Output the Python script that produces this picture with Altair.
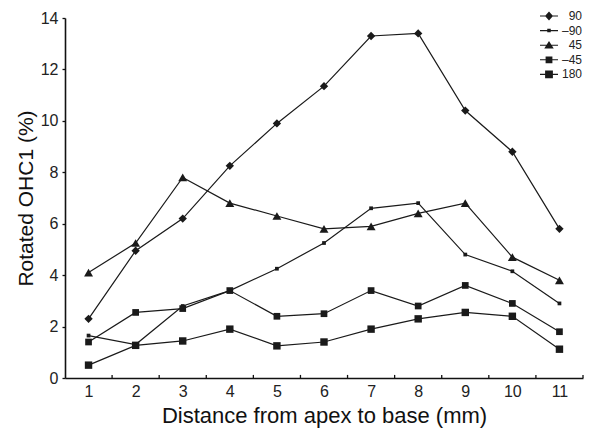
import altair as alt
import pandas as pd

# ---- data ----
distance = [1, 2, 3, 4, 5, 6, 7, 8, 9, 10, 11]
series_names = ["90", "\u201390", "45", "\u201345", "180"]
s_90 = [2.3, 4.95, 6.2, 8.25, 9.9, 11.35, 13.3, 13.4, 10.4, 8.8, 5.8]
s_m90 = [1.65, 1.3, 2.8, 3.4, 4.25, 5.25, 6.6, 6.8, 4.8, 4.15, 2.9]
s_45 = [4.1, 5.25, 7.8, 6.8, 6.3, 5.8, 5.9, 6.4, 6.8, 4.7, 3.8]
s_m45 = [1.4, 2.55, 2.7, 3.4, 2.4, 2.5, 3.4, 2.8, 3.6, 2.9, 1.8]
s_180 = [0.5, 1.27, 1.44, 1.9, 1.25, 1.4, 1.9, 2.3, 2.55, 2.4, 1.12]
y_ticks = [0, 2, 4, 6, 8, 10, 12, 14]
x_minor_ticks = [1.5, 2.5, 3.5, 4.5, 5.5, 6.5, 7.5, 8.5, 9.5, 10.5, 11.5]

values = [s_90, s_m90, s_45, s_m45, s_180]
rows = []
for name, vals in zip(series_names, values):
    for xv, yv in zip(distance, vals):
        rows.append({"x": xv, "y": yv, "series": name})
df = pd.DataFrame(rows)
ticks_df = pd.DataFrame({"t": x_minor_ticks})

FONT = "Liberation Sans"
INK = "#1a1a1a"

xscale = alt.Scale(domain=[0.5, 11.5], nice=False, zero=False)
yscale = alt.Scale(domain=[0, 14], nice=False)

x_axis = alt.Axis(values=distance, orient="bottom", ticks=False, grid=False,
                  labelPadding=5, titlePadding=6,
                  title="Distance from apex to base (mm)")
y_axis = alt.Axis(values=y_ticks, title="Rotated OHC1 (%)", grid=False,
                  tickSize=3, labelPadding=4, titlePadding=4)

marker_shapes = ["diamond", "square", "triangle-up", "square", "square"]
marker_sizes = [70, 14, 80, 45, 55]
legend_shapes = [
    "M-1.8,-0.11H1.8V0.11H-1.8ZM0,-0.9L0.8,0L0,0.9L-0.8,0Z",
    "M-1.8,-0.11H1.8V0.11H-1.8ZM-0.35,-0.35H0.35V0.35H-0.35Z",
    "M-1.8,-0.11H1.8V0.11H-1.8ZM0,-0.85L0.95,0.65H-0.95Z",
    "M-1.8,-0.11H1.8V0.11H-1.8ZM-0.68,-0.68H0.68V0.68H-0.68Z",
    "M-1.8,-0.11H1.8V0.11H-1.8ZM-0.78,-0.78H0.78V0.78H-0.78Z",
]

base = alt.Chart(df)

lines = base.mark_line(color=INK, strokeWidth=1.2).encode(
    x=alt.X("x:Q", scale=xscale, axis=x_axis),
    y=alt.Y("y:Q", scale=yscale, axis=y_axis),
    detail="series:N",
    order="x:Q",
)

points = base.mark_point(filled=True, color=INK, opacity=1).encode(
    x=alt.X("x:Q", scale=xscale, axis=x_axis),
    y=alt.Y("y:Q", scale=yscale, axis=y_axis),
    shape=alt.Shape("series:N", scale=alt.Scale(domain=series_names, range=marker_shapes), legend=None),
    size=alt.Size("series:N", scale=alt.Scale(type="ordinal", domain=series_names, range=marker_sizes), legend=None),
)

legend_layer = base.transform_filter("false").mark_point(
    filled=True, color=INK
).encode(
    x=alt.X("x:Q", scale=xscale, axis=x_axis),
    y=alt.Y("y:Q", scale=yscale, axis=y_axis),
    shape=alt.Shape(
        "series:N",
        scale=alt.Scale(domain=series_names, range=legend_shapes),
        legend=alt.Legend(
            title=None, orient="none", legendX=478, legendY=-8,
            padding=0, symbolSize=100, symbolFillColor=INK,
            symbolStrokeColor=INK, symbolStrokeWidth=0, symbolOpacity=1,
            labelOffset=27, labelAlign="right", labelFontSize=12,
            labelFont=FONT, labelColor="#222", rowPadding=2.6,
        ),
    ),
)

inner_ticks = alt.Chart(ticks_df).mark_rule(color="#111", strokeWidth=1.3).encode(
    x=alt.X("t:Q", scale=xscale, axis=x_axis),
    y=alt.Y(datum=0, scale=yscale, axis=y_axis),
    y2=alt.Y2(datum=0.12),
)

chart = alt.layer(lines, points, legend_layer, inner_ticks).resolve_scale(
    shape="independent", size="independent"
).properties(
    width=518, height=360,
    autosize=alt.AutoSizeParams(type="none"),
    padding={"left": 57, "top": 10, "right": 9, "bottom": 52},
).configure_view(stroke=None).configure_axis(
    labelFont=FONT, titleFont=FONT, labelFontSize=16, titleFontSize=21,
    titleFontWeight="normal", labelColor="#222", titleColor="#111",
    domainColor="#111", tickColor="#111", domainWidth=1.6, tickWidth=1.3,
).configure_axisX(titleFontSize=22)

chart.save("out.html", embed_options={"renderer": "svg", "actions": False})
